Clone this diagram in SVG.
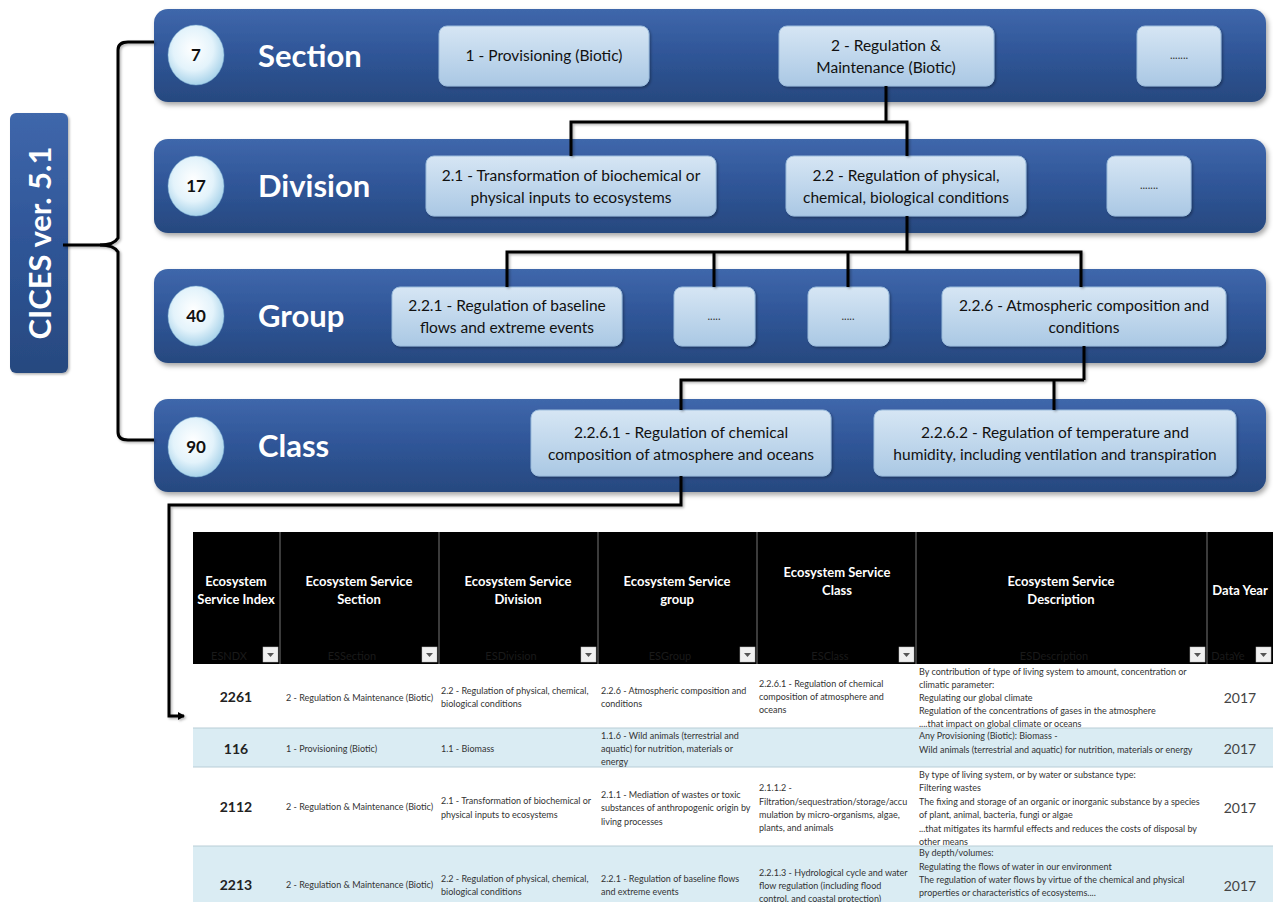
<svg xmlns="http://www.w3.org/2000/svg" width="1273" height="902" viewBox="0 0 1273 902">
<defs>
<linearGradient id="gBand" x1="0" y1="0" x2="0" y2="1">
<stop offset="0" stop-color="#3f67ab"/><stop offset="0.5" stop-color="#2f5597"/><stop offset="1" stop-color="#27497f"/>
</linearGradient>
<linearGradient id="gBox" x1="0" y1="0" x2="0" y2="1">
<stop offset="0" stop-color="#d6e6f4"/><stop offset="1" stop-color="#aac8e4"/>
</linearGradient>
<radialGradient id="gCirc" cx="0.45" cy="0.4" r="0.6">
<stop offset="0" stop-color="#ffffff"/><stop offset="0.6" stop-color="#e3f3fb"/><stop offset="1" stop-color="#a9d3ea"/>
</radialGradient>
<filter id="sh" x="-5%" y="-10%" width="110%" height="130%">
<feDropShadow dx="2" dy="3" stdDeviation="2.5" flood-color="#000" flood-opacity="0.35"/>
</filter>
<filter id="lsh" x="-10%" y="-10%" width="120%" height="120%">
<feDropShadow dx="1.5" dy="1.5" stdDeviation="1" flood-color="#000" flood-opacity="0.3"/>
</filter>
<marker id="arr" markerWidth="8" markerHeight="8" refX="6" refY="4" orient="auto" markerUnits="userSpaceOnUse">
<path d="M0,0 L7,4 L0,8 Z" fill="#000"/>
</marker>
<style>
.band{fill:url(#gBand);filter:url(#sh)}
.box{fill:url(#gBox);stroke:#9bbcdc;stroke-width:1;filter:url(#lsh)}
.circ{fill:url(#gCirc);stroke:#7fb0d3;stroke-width:0.5}
.num{font-family:"Lato","Liberation Sans",sans-serif;font-weight:bold;font-size:17px;fill:#111;text-anchor:middle}
.ttl{font-family:"Lato","Liberation Sans",sans-serif;font-weight:bold;font-size:31px;fill:#fff}
.bt{font-family:"Lato","Liberation Sans",sans-serif;font-size:15.5px;fill:#111;text-anchor:middle}
.dots{font-family:"Lato","Liberation Sans",sans-serif;font-size:11px;fill:#333;text-anchor:middle}
.con{fill:none;stroke:#000;stroke-width:3;stroke-linejoin:miter}
.hd{font-family:"Lato","Liberation Sans",sans-serif;font-weight:bold;font-size:13px;fill:#fff;text-anchor:middle}
.gh{font-family:"Lato","Liberation Sans",sans-serif;font-size:11px;fill:#1a1a1a;text-anchor:middle}
.dd{fill:#f0f0f0;stroke:#bbb;stroke-width:0.5}
.tri{fill:#555}
.cell{font-family:"Lato","Liberation Sans",sans-serif;font-size:9px;fill:#333}
.idx{font-family:"Lato","Liberation Sans",sans-serif;font-weight:bold;font-size:14px;fill:#222;text-anchor:middle}
.yr{font-family:"Lato","Liberation Sans",sans-serif;font-size:14px;fill:#444;text-anchor:middle}
</style>
</defs>
<rect width="1273" height="902" fill="#fff"/>

<g id="cices">
<rect x="10" y="113" width="58" height="260" rx="6" fill="url(#gBand)" filter="url(#lsh)"/>
<text transform="translate(51,243) rotate(-90)" text-anchor="middle" font-family="Lato, 'Liberation Sans', sans-serif" font-weight="bold" font-size="31" fill="#fff">CICES ver. 5.1</text>
</g>

<g id="section">
<rect class="band" x="154" y="9" width="1112" height="93" rx="14"/>
<ellipse class="circ" cx="196" cy="55" rx="28" ry="30"/>
<text class="num" x="196" y="61">7</text>
<text class="ttl" x="258" y="67">Section</text>
</g>
<g id="s1"><rect class="box" x="439" y="26" width="210" height="60" rx="8"/><text class="bt" x="544" y="61">1 - Provisioning (Biotic)</text></g>
<g id="s2"><rect class="box" x="779" y="26" width="215" height="60" rx="8"/><text class="bt" x="886" y="51">2 - Regulation &amp;</text><text class="bt" x="886" y="73">Maintenance (Biotic)</text></g>
<g id="s3"><rect class="box" x="1137" y="26" width="84" height="60" rx="8"/><text class="dots" x="1179" y="59">.......</text></g>

<g id="division">
<rect class="band" x="154" y="139" width="1112" height="94" rx="14"/>
<ellipse class="circ" cx="196" cy="186" rx="28" ry="30"/>
<text class="num" x="196" y="192">17</text>
<text class="ttl" x="258" y="197">Division</text>
</g>
<g id="d1"><rect class="box" x="426" y="156" width="290" height="60" rx="8"/><text class="bt" x="571" y="181">2.1 - Transformation of biochemical or</text><text class="bt" x="571" y="203">physical inputs to ecosystems</text></g>
<g id="d2"><rect class="box" x="786" y="156" width="240" height="60" rx="8"/><text class="bt" x="906" y="181">2.2 - Regulation of physical,</text><text class="bt" x="906" y="203">chemical, biological conditions</text></g>
<g id="d3"><rect class="box" x="1107" y="156" width="84" height="60" rx="8"/><text class="dots" x="1149" y="189">.......</text></g>

<g id="group">
<rect class="band" x="154" y="269" width="1112" height="94" rx="14"/>
<ellipse class="circ" cx="196" cy="316" rx="28" ry="30"/>
<text class="num" x="196" y="322">40</text>
<text class="ttl" x="258" y="327">Group</text>
</g>
<g id="g1"><rect class="box" x="392" y="287" width="230" height="59" rx="8"/><text class="bt" x="507" y="311">2.2.1 - Regulation of baseline</text><text class="bt" x="507" y="333">flows and extreme events</text></g>
<g id="g2"><rect class="box" x="674" y="287" width="81" height="59" rx="8"/><text class="dots" x="714" y="320">.....</text></g>
<g id="g3"><rect class="box" x="808" y="287" width="81" height="59" rx="8"/><text class="dots" x="848" y="320">.....</text></g>
<g id="g4"><rect class="box" x="942" y="287" width="284" height="59" rx="8"/><text class="bt" x="1084" y="311">2.2.6 - Atmospheric composition and</text><text class="bt" x="1084" y="333">conditions</text></g>

<g id="class">
<rect class="band" x="154" y="399" width="1112" height="93" rx="14"/>
<ellipse class="circ" cx="196" cy="447" rx="28" ry="30"/>
<text class="num" x="196" y="453">90</text>
<text class="ttl" x="258" y="457">Class</text>
</g>
<g id="c1"><rect class="box" x="531" y="410" width="300" height="66" rx="8"/><text class="bt" x="681" y="438">2.2.6.1 - Regulation of chemical</text><text class="bt" x="681" y="460">composition of atmosphere and oceans</text></g>
<g id="c2"><rect class="box" x="874" y="410" width="362" height="66" rx="8"/><text class="bt" x="1055" y="438">2.2.6.2 - Regulation of temperature and</text><text class="bt" x="1055" y="460">humidity, including ventilation and transpiration</text></g>

<g id="connectors" filter="url(#lsh)">
<path class="con" d="M63,245 L100,245 Q114,245 118,238 L118,50 Q118,42 128,42 L154,42"/>
<path class="con" d="M100,245 Q114,245 118,252 L118,432 Q118,440 128,440 L154,440"/>
<path class="con" d="M886,86 L886,122 M571,156 L571,122 L907,122 L907,156"/>
<path class="con" d="M907,216 L907,252 M507,287 L507,252 L1081,252 L1081,287 M714,252 L714,287 M848,252 L848,287"/>
<path class="con" d="M1084,346 L1084,380 M681,410 L681,380 L1084,380 M1054,380 L1054,410"/>
<path class="con" d="M681,476 L681,505 L169,505 L169,716 L184,716" marker-end="url(#arr)"/>
</g>

<g id="table">
<rect x="193" y="532" width="1080" height="132" fill="#000"/>
<g stroke="#777" stroke-width="1">
<line x1="280" y1="532" x2="280" y2="664"/><line x1="439" y1="532" x2="439" y2="664"/><line x1="598" y1="532" x2="598" y2="664"/><line x1="757" y1="532" x2="757" y2="664"/><line x1="916" y1="532" x2="916" y2="664"/><line x1="1207" y1="532" x2="1207" y2="664"/>
</g>
<text class="hd" x="236" y="586">Ecosystem</text><text class="hd" x="236" y="604">Service Index</text>
<text class="hd" x="359" y="586">Ecosystem Service</text><text class="hd" x="359" y="604">Section</text>
<text class="hd" x="518" y="586">Ecosystem Service</text><text class="hd" x="518" y="604">Division</text>
<text class="hd" x="677" y="586">Ecosystem Service</text><text class="hd" x="677" y="604">group</text>
<text class="hd" x="837" y="577">Ecosystem Service</text><text class="hd" x="837" y="595">Class</text>
<text class="hd" x="1061" y="586">Ecosystem Service</text><text class="hd" x="1061" y="604">Description</text>
<text class="hd" x="1240" y="595">Data Year</text>
<text class="gh" x="229" y="660">ESNDX</text><text class="gh" x="352" y="660">ESSection</text><text class="gh" x="511" y="660">ESDivision</text><text class="gh" x="670" y="660">ESGroup</text><text class="gh" x="830" y="660">ESClass</text><text class="gh" x="1054" y="660">ESDescription</text><text class="gh" x="1228" y="660" text-anchor="start">DataYe</text>
<g>
<rect class="dd" x="263" y="647" width="15" height="15"/><path class="tri" d="M267,653 L274,653 L270.5,657 Z"/>
<rect class="dd" x="422" y="647" width="15" height="15"/><path class="tri" d="M426,653 L433,653 L429.5,657 Z"/>
<rect class="dd" x="581" y="647" width="15" height="15"/><path class="tri" d="M585,653 L592,653 L588.5,657 Z"/>
<rect class="dd" x="740" y="647" width="15" height="15"/><path class="tri" d="M744,653 L751,653 L747.5,657 Z"/>
<rect class="dd" x="899" y="647" width="15" height="15"/><path class="tri" d="M903,653 L910,653 L906.5,657 Z"/>
<rect class="dd" x="1190" y="647" width="15" height="15"/><path class="tri" d="M1194,653 L1201,653 L1197.5,657 Z"/>
<rect class="dd" x="1256" y="647" width="15" height="15"/><path class="tri" d="M1260,653 L1267,653 L1263.5,657 Z"/>
</g>
<rect x="193" y="664" width="1080" height="64" fill="#fff"/>
<rect x="193" y="728" width="1080" height="39" fill="#daecf3"/>
<rect x="193" y="767" width="1080" height="79" fill="#fff"/>
<rect x="193" y="846" width="1080" height="56" fill="#daecf3"/>
<g stroke="#b8cdd6" stroke-width="1"><line x1="193" y1="728" x2="1273" y2="728"/><line x1="193" y1="767" x2="1273" y2="767"/><line x1="193" y1="846" x2="1273" y2="846"/></g>

<text class="idx" x="236" y="702">2261</text>
<text class="cell" x="286" y="701">2 - Regulation &amp; Maintenance (Biotic)</text>
<text class="cell" x="441" y="694">2.2 - Regulation of physical, chemical,</text><text class="cell" x="441" y="707">biological conditions</text>
<text class="cell" x="601" y="694">2.2.6 - Atmospheric composition and</text><text class="cell" x="601" y="707">conditions</text>
<text class="cell" x="759" y="687">2.2.6.1 - Regulation of chemical</text><text class="cell" x="759" y="700">composition of atmosphere and</text><text class="cell" x="759" y="713">oceans</text>
<text class="cell" x="919" y="675">By contribution of type of living system to amount, concentration or</text><text class="cell" x="919" y="688">climatic parameter:</text><text class="cell" x="919" y="701">Regulating our global climate</text><text class="cell" x="919" y="714">Regulation of the concentrations of gases in the atmosphere</text><text class="cell" x="919" y="727">....that impact on global climate or oceans</text>
<text class="yr" x="1240" y="703">2017</text>

<text class="idx" x="236" y="754">116</text>
<text class="cell" x="286" y="752">1 - Provisioning (Biotic)</text>
<text class="cell" x="441" y="752">1.1 - Biomass</text>
<text class="cell" x="601" y="739">1.1.6 - Wild animals (terrestrial and</text><text class="cell" x="601" y="752">aquatic)  for nutrition, materials or</text><text class="cell" x="601" y="765">energy</text>
<text class="cell" x="919" y="739">Any Provisioning (Biotic): Biomass -</text><text class="cell" x="919" y="753">Wild animals (terrestrial and aquatic)  for nutrition, materials or energy</text>
<text class="yr" x="1240" y="754">2017</text>

<text class="idx" x="236" y="812">2112</text>
<text class="cell" x="286" y="810">2 - Regulation &amp; Maintenance (Biotic)</text>
<text class="cell" x="441" y="804">2.1 - Transformation of biochemical or</text><text class="cell" x="441" y="818">physical inputs to ecosystems</text>
<text class="cell" x="601" y="798">2.1.1 - Mediation of wastes or toxic</text><text class="cell" x="601" y="811">substances of anthropogenic origin by</text><text class="cell" x="601" y="825">living processes</text>
<text class="cell" x="759" y="791">2.1.1.2 -</text><text class="cell" x="759" y="805">Filtration/sequestration/storage/accu</text><text class="cell" x="759" y="818">mulation by micro-organisms, algae,</text><text class="cell" x="759" y="831">plants, and animals</text>
<text class="cell" x="919" y="778">By type of living system, or by water or substance type:</text><text class="cell" x="919" y="791">Filtering wastes</text><text class="cell" x="919" y="805">The fixing and storage of an organic or inorganic substance by a species</text><text class="cell" x="919" y="818">of plant, animal, bacteria, fungi or algae</text><text class="cell" x="919" y="832">...that mitigates its harmful effects and reduces the costs of disposal by</text><text class="cell" x="919" y="845">other means</text>
<text class="yr" x="1240" y="813">2017</text>

<text class="idx" x="236" y="890">2213</text>
<text class="cell" x="286" y="888">2 - Regulation &amp; Maintenance (Biotic)</text>
<text class="cell" x="441" y="882">2.2 - Regulation of physical, chemical,</text><text class="cell" x="441" y="895">biological conditions</text>
<text class="cell" x="601" y="882">2.2.1 - Regulation of baseline flows</text><text class="cell" x="601" y="895">and extreme events</text>
<text class="cell" x="759" y="876">2.2.1.3 - Hydrological cycle and water</text><text class="cell" x="759" y="889">flow regulation (including flood</text><text class="cell" x="759" y="902">control, and coastal protection)</text>
<text class="cell" x="919" y="856">By depth/volumes:</text><text class="cell" x="919" y="870">Regulating the flows of water in our environment</text><text class="cell" x="919" y="883">The regulation of water flows by virtue of the chemical and physical</text><text class="cell" x="919" y="896">properties or characteristics of ecosystems....</text>
<text class="yr" x="1240" y="891">2017</text>
</g>
</svg>
